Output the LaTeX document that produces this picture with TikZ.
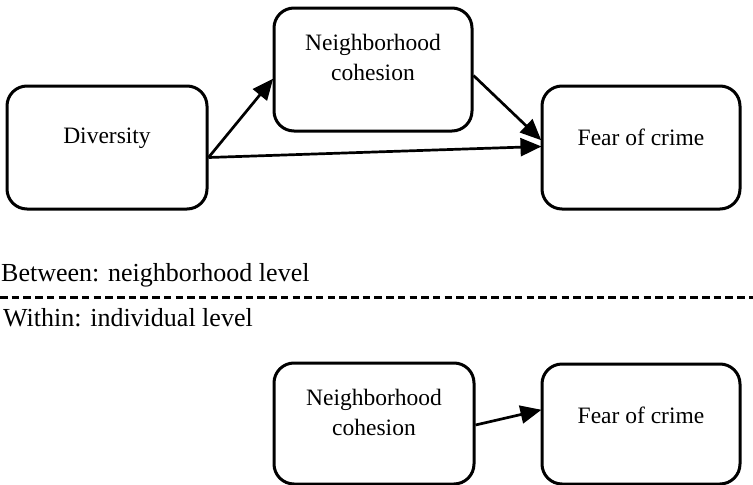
\documentclass[tikz,border=0pt]{standalone}
\usepackage{fontspec}
\setmainfont{Liberation Serif}
\usetikzlibrary{arrows.meta}
\begin{document}
\begin{tikzpicture}[x=1pt,y=-1pt,
  box/.style={draw,line width=3pt,rounded corners=20pt,inner sep=0pt},
  boxtxt/.style={align=center,inner sep=0pt,font=\fontsize{23.5}{30}\selectfont},
  lvl/.style={anchor=base west,inner sep=0pt,font=\fontsize{26}{30}\selectfont},
  conn/.style={line width=2.7pt,-{Triangle[length=21pt,width=18pt]},shorten >=-1pt},
  sep/.style={line width=3pt,dash pattern=on 7.5pt off 4.2pt}]
\useasboundingbox (0,0) rectangle (753,485);
% top level
\node[box,minimum width=200pt,minimum height=123pt] (div) at (107,147.5) {};
\node[box,minimum width=198pt,minimum height=123pt] (nc) at (373,69.5) {};
\node[box,minimum width=198pt,minimum height=123pt] (fear) at (641,147.5) {};
\node[boxtxt] (divt) at ([yshift=-54pt]div.north) {Diversity};
\node[boxtxt] (nct) at ([yshift=-51pt]nc.north) {Neighborhood\\cohesion};
\node[boxtxt] (feart) at ([yshift=-53pt]fear.north) {Fear of crime};
\draw[conn] ([yshift=-10pt]div.east) -- ([yshift=-10pt]nc.west);
\draw[conn] ([yshift=-10pt]div.east) -- ([yshift=1pt]fear.west);
\draw[conn] ([yshift=-6pt]nc.east) -- ([yshift=8pt]fear.west);
% level separator
\node[lvl] (between) at (1,281) {Between: neighborhood level};
\coordinate (sepL) at (0,297);
\coordinate (sepR) at (753,297);
\draw[sep] (sepL) -- (sepR);
\node[lvl] (within) at (3,326) {Within: individual level};
% bottom level
\node[box,minimum width=200pt,minimum height=121pt] (nc2) at (374,423.5) {};
\node[box,minimum width=198pt,minimum height=120pt] (fear2) at (641,424) {};
\node[boxtxt] (nc2t) at ([yshift=-51pt]nc2.north) {Neighborhood\\cohesion};
\node[boxtxt] (fear2t) at ([yshift=-53pt]fear2.north) {Fear of crime};
\draw[conn] ([yshift=-1.5pt]nc2.east) -- ([yshift=14pt]fear2.west);
\end{tikzpicture}
\end{document}
